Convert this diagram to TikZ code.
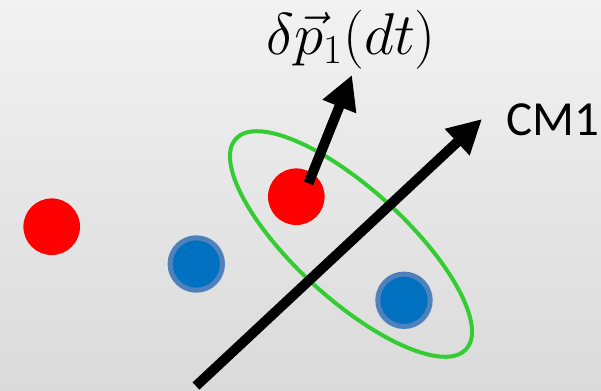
\RequirePackage{fix-cm}
\documentclass[tikz,border=0pt]{standalone}
\usepackage{amsmath}
\usepackage{amssymb}
\usepackage{fontspec}
\newfontfamily\labelfont{Carlito}
\usetikzlibrary{arrows.meta,shapes.geometric}

\definecolor{bgtop}{HTML}{F2F2F2}
\definecolor{bgbot}{HTML}{DADADA}
\definecolor{dotred}{HTML}{FF0000}
\definecolor{dotblue}{HTML}{0070C0}
\definecolor{dotrim}{HTML}{4F81BD}
\definecolor{ringgreen}{HTML}{33CC33}

\begin{document}
\begin{tikzpicture}[x=0.5pt,y=-0.5pt,>={Triangle[length=17pt,width=17pt]},
  reddot/.style={circle,fill=dotred,inner sep=0pt,minimum size=28.3pt},
  bluedot/.style={circle,fill=dotblue,draw=dotrim,line width=2.5pt,inner sep=0pt,minimum size=26.2pt},
  bigarrow/.style={->,line width=5pt}]
\shade[top color=bgtop,bottom color=bgbot] (0,0) rectangle (601,391);
\useasboundingbox (0,0) rectangle (601,391);

% particles
\node[reddot] (r1) at (51.7,226.7) {};
\node[reddot] (r2) at (296.3,196.7) {};
\node[bluedot] (b1) at (196.3,264) {};
\node[bluedot] (b2) at (404,300.3) {};

% the pair
\node[ellipse,draw=ringgreen,line width=2pt,inner sep=0pt,minimum width=156pt,minimum height=55pt,rotate=-42.4] (pair) at (351,244) {};

% centre of mass axis
\coordinate (cmtail) at (196,386);
\coordinate (cmtip) at (482,119);
\draw[bigarrow] (cmtail) -- (cmtip);
\node[anchor=base west,inner sep=0pt,font=\labelfont\fontsize{24.5}{28}\selectfont] (cmlabel) at (506,135) {CM1};

% momentum kick
\coordinate (dptail) at (308.5,183.3);
\coordinate (dptip) at (352,75);
\draw[bigarrow] (dptail) -- (dptip);
\node[anchor=base west,inner sep=0pt,font=\fontsize{29.5}{32}\selectfont] (dplabel) at (266,54.5) {$\delta\vec{p}_1(dt)$};
\end{tikzpicture}
\end{document}
